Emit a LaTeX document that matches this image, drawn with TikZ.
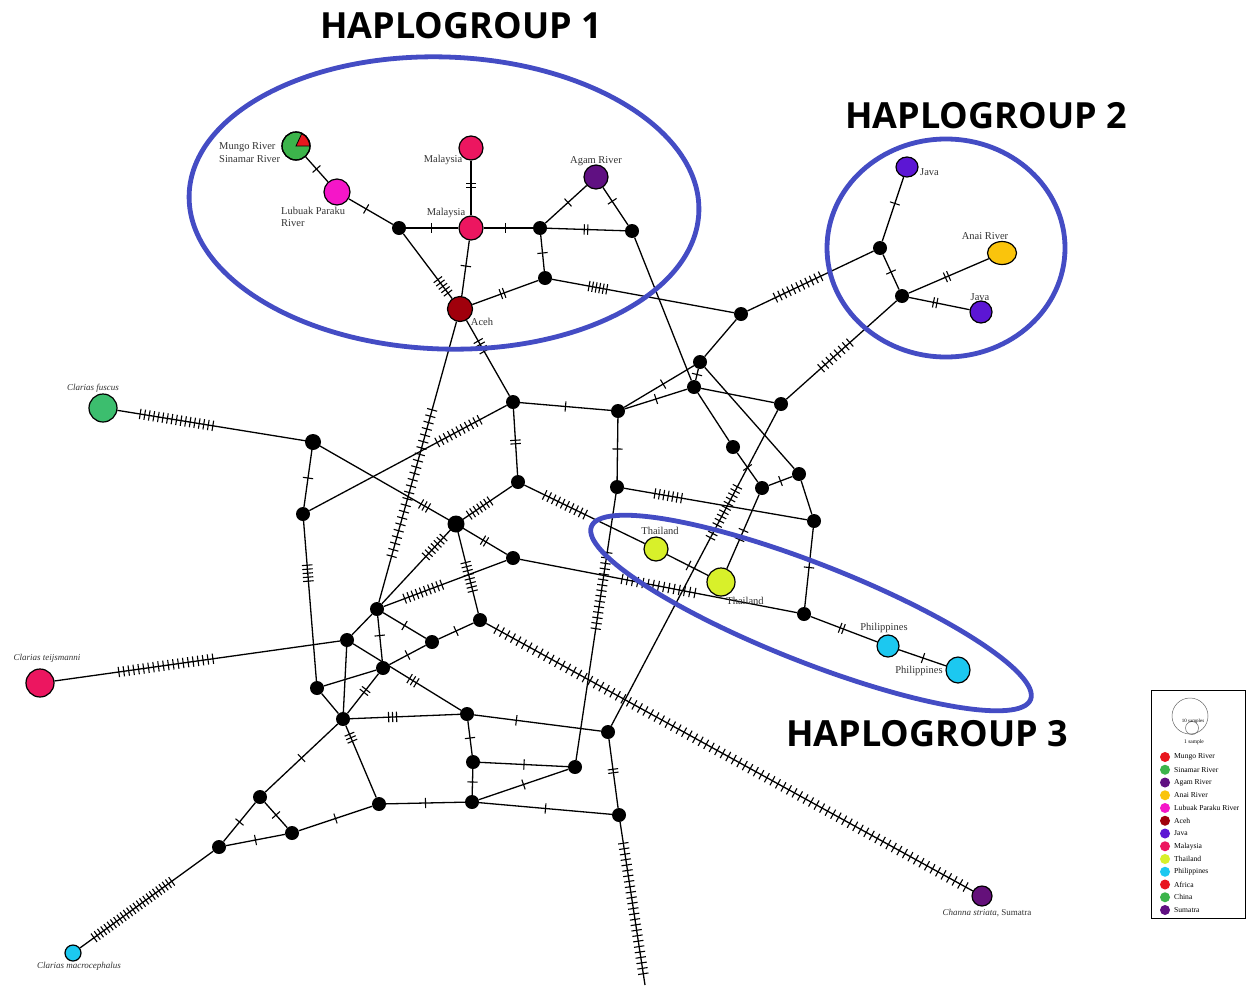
\documentclass[tikz,border=0pt]{standalone}
\usepackage{fontspec}
\setmainfont{Liberation Serif}
\newfontfamily\titlefont{Open Sans}
\usetikzlibrary{calc,shapes.geometric}
\pgfdeclarelayer{back}
\pgfdeclarelayer{bg}
\pgfsetlayers{back,bg,main}

\definecolor{mungo}{RGB}{232,22,30}
\definecolor{sinamar}{RGB}{60,180,75}
\definecolor{agam}{RGB}{96,16,130}
\definecolor{anai}{RGB}{250,196,12}
\definecolor{lubuak}{RGB}{245,22,200}
\definecolor{aceh}{RGB}{160,0,12}
\definecolor{java}{RGB}{92,22,212}
\definecolor{malay}{RGB}{236,22,96}
\definecolor{thai}{RGB}{216,240,42}
\definecolor{phil}{RGB}{28,200,240}
\definecolor{fuscus}{RGB}{60,190,110}
\definecolor{striata}{RGB}{100,16,122}
\definecolor{hgblue}{RGB}{68,76,196}

% edge with n mutation ticks: from, to, n, position, spacing
\newcommand\hl[5]{%
  \draw[edge] (#1) -- (#2);
  \ifnum#3>0
    \coordinate (mc) at ($(#1)!#4!(#2)$);
    \foreach \k in {1,...,#3}{%
      \pgfmathsetmacro\off{(\k-(#3+1)/2)*#5}%
      \coordinate (mk) at ($(mc)!\off pt!(#2)$);
      \draw[tick] ($(mk)!5.2pt!90:(#2)$) -- ($(mk)!5.2pt!-90:(#2)$);
    }%
  \fi
}

\begin{document}
\begin{tikzpicture}[x=1pt,y=-1pt,
  edge/.style={line width=1.3pt,black},
  tick/.style={line width=1.1pt,black},
  hap/.style={circle,draw=black,line width=1.2pt,inner sep=0pt},
  med/.style={circle,fill=black,inner sep=0pt,minimum size=14pt},
  lab/.style={text=black!80,font=\fontsize{10.5}{12}\selectfont,inner sep=0pt},
  spc/.style={text=black!80,font=\fontsize{9}{11}\selectfont\itshape,inner sep=0pt},
  hg/.style={draw=hgblue,line width=4.8pt},
  title/.style={font=\titlefont\bfseries\fontsize{36}{40}\selectfont,inner sep=0pt},
  leg/.style={font=\fontsize{7.6}{9}\selectfont,inner sep=0pt,anchor=west}]
\useasboundingbox (0,0) rectangle (1246,985);
\begin{pgfonlayer}{back}
\fill[white] (0,0) rectangle (1246,985);
\end{pgfonlayer}

% sampled haplotypes
\node[hap,fill=sinamar,minimum size=28pt] (MS) at (296,146) {};
\filldraw[fill=mungo,draw=black,line width=0.8pt] (MS.center) -- ++(0:13.6pt) arc[start angle=0,end angle=65,radius=13.6pt] -- cycle;
\draw[line width=1.2pt] (MS.center) circle[radius=14pt];
\node[hap,fill=lubuak,minimum size=26pt] (LP) at (337,192) {};
\node[hap,fill=malay,minimum size=24pt] (MY1) at (471,148) {};
\node[hap,fill=malay,minimum size=24pt] (MY2) at (471,228) {};
\node[hap,fill=aceh,minimum size=25pt] (ACEH) at (460,309) {};
\node[hap,fill=agam,minimum size=24pt] (AGAM) at (596,177) {};
\node[hap,ellipse,fill=java,minimum width=22pt,minimum height=20pt] (JAVA1) at (907,167) {};
\node[hap,ellipse,fill=anai,minimum width=29pt,minimum height=23pt] (ANAI) at (1002,253) {};
\node[hap,fill=java,minimum size=22pt] (JAVA2) at (981,312) {};
\node[hap,fill=thai,minimum size=24pt] (TH1) at (656,549) {};
\node[hap,fill=thai,minimum size=28pt] (TH2) at (721,582) {};
\node[hap,fill=phil,minimum size=22pt] (PH1) at (888,646) {};
\node[hap,ellipse,fill=phil,minimum width=24pt,minimum height=26pt] (PH2) at (958,670) {};
\node[hap,fill=fuscus,minimum size=28pt] (CFUS) at (103,408) {};
\node[hap,fill=malay,minimum size=28pt] (CTEI) at (40,683) {};
\node[hap,fill=phil,minimum size=16pt] (CMAC) at (73,953) {};
\node[hap,fill=striata,minimum size=20pt] (CSTR) at (982,896) {};

% median vectors
\foreach \n/\x/\y in {N1/399/228,N2/540/228,N3/632/231,N4/545/278,N5/741/314,
  N6/880/248,N7/902/296,N8/700/362,N9/694/387,N10/618/411,N11/781/404,
  N12/513/402,N13/617/487,N14/733/447,N15/762/488,N16/799/474,N17/814/521,
  N18/518/482,N19/456/524,N20/513/558,N21/313/442,N22/303/514,N23/804/614,
  N24/377/609,N25/347/640,N26/432/642,N27/480/620,N28/383/668,N29/317/688,
  N30/343/719,N31/467/714,N32/608/732,N33/575/767,N34/473/762,N35/472/802,
  N36/619/815,N37/379/804,N38/260/797,N39/292/833,N40/219/847}
  \node[med] (\n) at (\x,\y) {};
\node[med,minimum size=17pt] (N19b) at (N19) {};
\node[med,minimum size=16pt] (N21b) at (N21) {};
\coordinate (END) at (645,985);

\begin{pgfonlayer}{bg}
\hl{MS}{LP}{1}{.5}{4}
\hl{LP}{N1}{1}{.47}{4}
\hl{N1}{MY2}{1}{.45}{4}
\hl{MY1}{MY2}{2}{.47}{3.5}
\hl{MY2}{ACEH}{1}{.47}{4}
\hl{N1}{ACEH}{5}{.72}{4.2}
\hl{MY2}{N2}{1}{.5}{4}
\hl{N2}{AGAM}{1}{.5}{4}
\hl{N2}{N3}{2}{.5}{3.5}
\hl{N2}{N4}{1}{.5}{4}
\hl{AGAM}{N3}{1}{.45}{4}
\hl{N4}{ACEH}{2}{.5}{3.5}
\hl{N4}{N5}{6}{.27}{3.6}
\hl{N3}{N9}{0}{.5}{4}
\hl{N5}{N6}{11}{.41}{5}
\hl{N6}{JAVA1}{1}{.55}{4}
\hl{N6}{N7}{1}{.5}{4}
\hl{N7}{ANAI}{2}{.45}{3.5}
\hl{N7}{JAVA2}{2}{.42}{3.5}
\hl{N7}{N11}{8}{.55}{5.5}
\hl{N5}{N8}{0}{.5}{4}
\hl{N8}{N9}{1}{.5}{4}
\hl{N8}{N10}{1}{.45}{4}
\hl{N9}{N10}{1}{.5}{4}
\hl{N8}{N16}{0}{.5}{4}
\hl{N9}{N11}{0}{.5}{4}
\hl{N9}{N14}{0}{.5}{4}
\hl{N14}{N15}{1}{.5}{4}
\hl{N15}{N16}{1}{.5}{4}
\hl{N16}{N17}{0}{.5}{4}
\hl{N17}{N23}{1}{.5}{4}
\hl{N13}{N17}{7}{.26}{4.5}
\hl{N10}{N13}{1}{.5}{4}
\hl{N10}{N12}{1}{.5}{4}
\hl{N12}{N18}{2}{.5}{3.5}
\hl{ACEH}{N12}{4}{.4}{4}
\hl{N12}{N22}{11}{.26}{4.8}
\hl{N21}{CFUS}{17}{.65}{4.6}
\hl{N21}{N22}{1}{.5}{4}
\hl{N21}{N19}{3}{.78}{4}
\hl{N22}{N29}{5}{.34}{4}
\hl{N19}{N18}{7}{.38}{4.2}
\hl{N18}{TH1}{10}{.34}{5}
\hl{N19}{N20}{2}{.5}{3.5}
\hl{N19}{N24}{7}{.27}{4.3}
\hl{N19}{N27}{8}{.55}{4.2}
\hl{N20}{N23}{15}{.5}{5.3}
\hl{N20}{N24}{10}{.66}{4.4}
\hl{TH1}{TH2}{1}{.5}{4}
\hl{N15}{TH2}{2}{.5}{10}
\hl{N23}{PH1}{2}{.45}{3.5}
\hl{PH1}{PH2}{1}{.5}{4}
\hl{N11}{N32}{13}{.33}{4.8}
\hl{N13}{N33}{15}{.37}{5.5}
\hl{ACEH}{N24}{24}{.58}{6.6}
\hl{N27}{CSTR}{86}{.5}{6.3}
\hl{N27}{N26}{1}{.5}{4}
\hl{N26}{N28}{1}{.5}{4}
\hl{N24}{N26}{1}{.5}{4}
\hl{N24}{N25}{0}{.5}{4}
\hl{N24}{N28}{1}{.45}{4}
\hl{N25}{CTEI}{20}{.59}{5}
\hl{N25}{N30}{0}{.5}{4}
\hl{N25}{N31}{3}{.55}{4}
\hl{N29}{N28}{0}{.5}{4}
\hl{N29}{N30}{0}{.5}{4}
\hl{N28}{N30}{2}{.45}{3.5}
\hl{N30}{N31}{3}{.4}{4}
\hl{N30}{N38}{1}{.5}{4}
\hl{N30}{N37}{3}{.22}{3.8}
\hl{N38}{N39}{1}{.5}{4}
\hl{N38}{N40}{1}{.5}{4}
\hl{N40}{N39}{1}{.5}{4}
\hl{N39}{N37}{1}{.5}{4}
\hl{N37}{N35}{1}{.5}{4}
\hl{N40}{CMAC}{25}{.59}{4}
\hl{N31}{N34}{1}{.5}{4}
\hl{N34}{N35}{1}{.5}{4}
\hl{N34}{N33}{1}{.5}{4}
\hl{N35}{N33}{1}{.5}{4}
\hl{N35}{N36}{1}{.5}{4}
\hl{N31}{N32}{1}{.35}{4}
\hl{N32}{N36}{2}{.47}{3.5}
\hl{N36}{END}{25}{.55}{5.5}
\end{pgfonlayer}

% haplotype labels
\node[lab,anchor=west] (tMS1) at (219,147) {Mungo River};
\node[lab,anchor=west] (tMS2) at (219,159) {Sinamar River};
\node[lab,anchor=west] (tLP1) at (281,211) {Lubuak Paraku};
\node[lab,anchor=west] (tLP2) at (281,223) {River};
\node[lab] (tMY1) at (443,160) {Malaysia};
\node[lab] (tMY2) at (446,213) {Malaysia};
\node[lab] (tAC) at (482,322) {Aceh};
\node[lab] (tAG) at (596,161) {Agam River};
\node[lab,anchor=west] (tJ1) at (920,172) {Java};
\node[lab] (tAN) at (985,236) {Anai River};
\node[lab] (tJ2) at (980,297) {Java};
\node[lab] (tTH1) at (660,531) {Thailand};
\node[lab] (tTH2) at (745,601) {Thailand};
\node[lab] (tPH1) at (884,628) {Philippines};
\node[lab] (tPH2) at (919,671) {Philippines};
\node[spc] (tCF) at (93,388) {Clarias fuscus};
\node[spc] (tCT) at (47,658) {Clarias teijsmanni};
\node[spc] (tCM) at (79,966) {Clarias macrocephalus};
\node[spc] (tCS) at (987,913) {Channa striata{\upshape, Sumatra}};

% haplogroup outlines
\draw[hg,rotate around={-2:(444,203)}] (444,203) ellipse [x radius=255, y radius=146];
\draw[hg] (946,248) ellipse [x radius=119, y radius=109];
\draw[hg,rotate around={-21.5:(811,613)}] (811,613) ellipse [x radius=236, y radius=49];

\node[title] (hg1) at (461,26) {HAPLOGROUP 1};
\node[title] (hg2) at (986,116) {HAPLOGROUP 2};
\node[title] (hg3) at (927,734) {HAPLOGROUP 3};

% legend
\draw[line width=1pt] (1151.5,690.5) rectangle (1245,918);
\draw[black!60,line width=0.5pt] (1190,716) circle[radius=18pt];
\draw[black!60,line width=0.5pt] (1192,728) circle[radius=6.5pt];
\node[font=\fontsize{5}{6}\selectfont,inner sep=0pt] (l10) at (1193,721) {10 samples};
\node[font=\fontsize{5.5}{6}\selectfont,inner sep=0pt] (l1) at (1194,742) {1 sample};
\foreach \c/\t [count=\i from 0] in {mungo/Mungo River,sinamar/Sinamar River,
  agam/Agam River,anai/Anai River,lubuak/Lubuak Paraku River,aceh/Aceh,
  java/Java,malay/Malaysia,thai/Thailand,phil/Philippines,mungo/Africa,
  sinamar/China,agam/Sumatra}{
  \node[circle,fill=\c,inner sep=0pt,minimum size=10pt] (ld\i) at (1165,{757+12.75*\i}) {};
  \node[leg] (lt\i) at (1174,{757+12.75*\i}) {\t};
}
\end{tikzpicture}
\end{document}
